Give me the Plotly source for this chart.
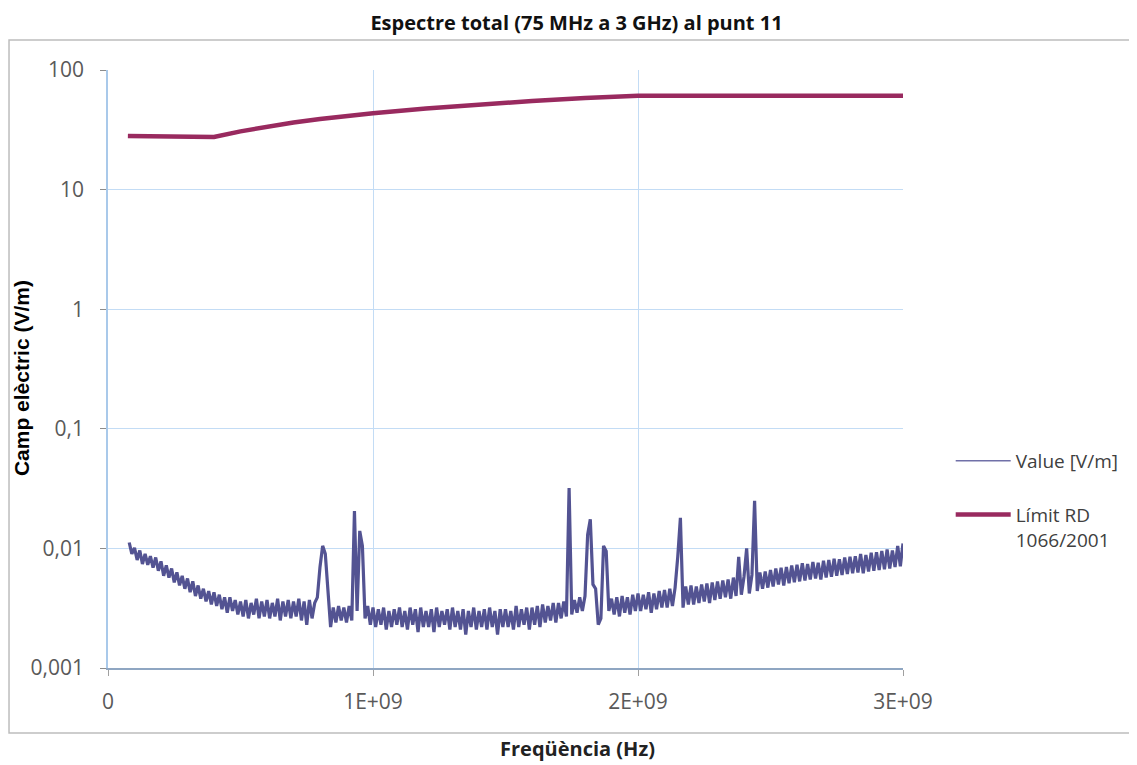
import numpy as np
import plotly.graph_objects as go

# ---- data -------------------------------------------------------------
# measured spectrum, 10 MHz steps from 80 MHz to 3000 MHz (values in mV/m)
freq_start_mhz = 80
freq_step_mhz = 10
value_mVm = [
    11.2, 9.0,
    10.1, 8.0, 9.6, 7.4, 9.0, 7.3, 8.6, 6.9, 8.4, 6.5,      # 100
    7.8, 5.9, 7.2, 5.7, 6.8, 5.2, 6.3, 4.9, 5.9, 4.6,       # 200
    5.6, 4.3, 5.3, 4.0, 4.9, 3.8, 4.6, 3.6, 4.4, 3.4,       # 300
    4.3, 3.3, 4.1, 3.1, 3.9, 2.9, 3.9, 3.0, 3.7, 2.8,       # 400
    3.6, 2.7, 3.7, 2.6, 3.5, 2.8, 3.8, 2.6, 3.6, 2.7,       # 500
    3.7, 2.6, 3.5, 2.7, 3.8, 2.5, 3.6, 2.7, 3.7, 2.6,       # 600
    3.6, 2.7, 3.8, 2.5, 3.6, 2.3, 3.7, 2.6, 3.5, 3.9,       # 700
    7.0, 10.5, 9.0, 4.2, 2.2, 3.2, 2.4, 3.3, 2.5, 3.2,      # 800
    2.4, 3.3, 2.5, 20.5, 3.0, 14.0, 10.5, 2.6, 3.3, 2.3,    # 900
    3.2, 2.2, 3.1, 2.3, 3.2, 2.1, 3.0, 2.2, 3.1, 2.3,       # 1000
    3.2, 2.2, 3.0, 2.1, 3.2, 2.3, 3.1, 2.0, 3.2, 2.2,       # 1100
    3.0, 2.2, 3.1, 2.0, 3.2, 2.2, 3.0, 2.3, 3.1, 2.1,       # 1200
    3.2, 2.2, 3.0, 2.1, 3.1, 1.9, 3.0, 2.2, 3.2, 2.1,       # 1300
    3.0, 2.2, 3.1, 2.1, 3.2, 2.2, 3.0, 1.9, 3.1, 2.2,       # 1400
    3.1, 2.2, 3.0, 2.1, 3.3, 2.2, 3.1, 2.3, 3.2, 2.1,       # 1500
    3.2, 2.3, 3.3, 2.2, 3.4, 2.4, 3.3, 2.5, 3.5, 2.4,       # 1600
    3.5, 2.6, 3.6, 2.7, 32.0, 2.8, 3.7, 2.9, 3.9, 3.0,      # 1700
    4.0, 13.0, 17.5, 5.0, 4.6, 2.3, 2.6, 10.5, 9.5, 3.0,    # 1800
    3.8, 2.8, 3.9, 2.7, 4.0, 2.9, 3.9, 2.8, 4.1, 3.0,       # 1900
    4.2, 3.0, 4.1, 3.1, 4.3, 2.9, 4.2, 3.1, 4.4, 3.2,       # 2000
    4.5, 3.2, 4.6, 3.3, 4.7, 8.5, 18.0, 3.2, 4.8, 3.4,      # 2100
    4.9, 3.4, 4.8, 3.5, 5.0, 3.6, 5.1, 3.5, 5.2, 3.7,       # 2200
    5.3, 3.8, 5.4, 3.9, 5.5, 3.8, 5.7, 4.0, 8.5, 4.1,       # 2300
    5.8, 10.0, 4.2, 6.0, 25.0, 4.4, 6.3, 4.6, 6.4, 4.7,     # 2400
    6.6, 4.8, 6.8, 5.0, 6.9, 4.9, 7.0, 5.1, 7.2, 5.2,       # 2500
    7.3, 5.3, 7.5, 5.4, 7.4, 5.5, 7.7, 5.6, 7.6, 5.5,       # 2600
    7.9, 5.7, 8.0, 5.8, 8.2, 5.9, 8.1, 6.0, 8.4, 6.1,       # 2700
    8.5, 6.2, 8.6, 6.3, 9.0, 6.2, 8.8, 6.4, 9.2, 6.5,       # 2800
    9.3, 6.6, 9.5, 6.7, 9.8, 6.8, 9.6, 7.0, 10.5, 7.1,      # 2900
    11.0,
]

# limit RD 1066/2001
limit_freq_mhz = [75, 400, 500, 600, 700, 800, 900, 1000, 1200, 1400, 1600, 1800, 1900, 2000, 3000]
limit_vm = [28.0, 27.5, 30.7, 33.7, 36.4, 38.9, 41.3, 43.5, 47.6, 51.4, 55.0, 58.3, 60.0, 61.0, 61.0]

y_tickvals = [0.001, 0.01, 0.1, 1, 10, 100]
y_ticktext = ["0,001", "0,01", "0,1", "1", "10", "100"]
x_tickvals = [0, 1e9, 2e9, 3e9]
x_ticktext = ["0", "1E+09", "2E+09", "3E+09"]

# ---- figure -----------------------------------------------------------
value_freq_hz = (freq_start_mhz + freq_step_mhz * np.arange(len(value_mVm))) * 1e6
value_vm = np.array(value_mVm) / 1000.0
limit_freq_hz = np.array(limit_freq_mhz) * 1e6

value_color = "#535392"

fig = go.Figure()
fig.add_trace(go.Scatter(
    x=value_freq_hz, y=value_vm, mode="lines", name="Value [V/m]",
    line=dict(color=value_color, width=3.2), legendgroup="a", showlegend=False,
))
# legend entry for the measured series (thin line, as in the reference legend)
fig.add_trace(go.Scatter(
    x=[None], y=[None], mode="lines", name="Value [V/m]",
    line=dict(color="#7070a8", width=1.5), legendgroup="a",
))
fig.add_trace(go.Scatter(
    x=limit_freq_hz, y=limit_vm, mode="lines", name="Límit RD<br>1066/2001",
    line=dict(color="#992a5f", width=4.5), legendgroup="b",
))

tick_font = dict(family="Open Sans, sans-serif", size=21, color="#595959")

fig.update_layout(
    width=1137, height=765,
    margin=dict(l=100, r=242, t=62, b=105),
    paper_bgcolor="white", plot_bgcolor="white",
    title=dict(
        text="<b>Espectre total (75 MHz a 3 GHz) al punt 11</b>",
        font=dict(family="Open Sans, sans-serif", size=20, color="#111111"),
        x=0.5, xanchor="center", xref="container",
        y=1 - 15 / 765, yanchor="middle", yref="container",
    ),
    legend=dict(
        x=1.06, xanchor="left", y=0.378, yanchor="top",
        font=dict(family="Open Sans, sans-serif", size=19, color="#404040"),
        traceorder="grouped", tracegroupgap=26, valign="top",
        itemwidth=55,
        bgcolor="rgba(0,0,0,0)",
    ),
    showlegend=True,
)

fig.update_xaxes(
    range=[0, 3e9], tickvals=x_tickvals, ticktext=x_ticktext,
    showgrid=True, gridcolor="#c3dcf5", gridwidth=1,
    showline=True, linecolor="#8fa6c2", linewidth=2,
    ticks="outside", ticklen=6, tickcolor="#a0a0a0",
    tickfont=tick_font, zeroline=False, ticklabelstandoff=8,
)
fig.update_yaxes(
    type="log", range=[-3, 2], tickvals=y_tickvals, ticktext=y_ticktext,
    showgrid=True, gridcolor="#c3dcf5", gridwidth=1,
    showline=True, linecolor="#a9c9ea", linewidth=1.5,
    ticks="outside", ticklen=6, tickcolor="#8c8c8c",
    tickfont=tick_font, zeroline=False, ticklabelstandoff=12,
)

# axis titles, placed where the reference has them
fig.add_annotation(
    text="<b>Camp elèctric (V/m)</b>", textangle=-90,
    xref="paper", yref="paper", x=-0.108, y=0.485,
    xanchor="center", yanchor="middle", showarrow=False,
    font=dict(family="Arial, Liberation Sans, sans-serif", size=21, color="#000000"),
)
fig.add_annotation(
    text="<b>Freqüència (Hz)</b>",
    xref="paper", yref="paper", x=0.591, y=-0.134,
    xanchor="center", yanchor="middle", showarrow=False,
    font=dict(family="Open Sans, sans-serif", size=20, color="#222222"),
)

# outer chart frame
fig.add_shape(type="rect", xref="paper", yref="paper",
              x0=-0.1245, x1=1.2918, y0=-0.1087, y1=1.050,
              line=dict(color="#bdbdbd", width=1.5), fillcolor="rgba(0,0,0,0)", layer="below")

fig.write_html("out.html")
